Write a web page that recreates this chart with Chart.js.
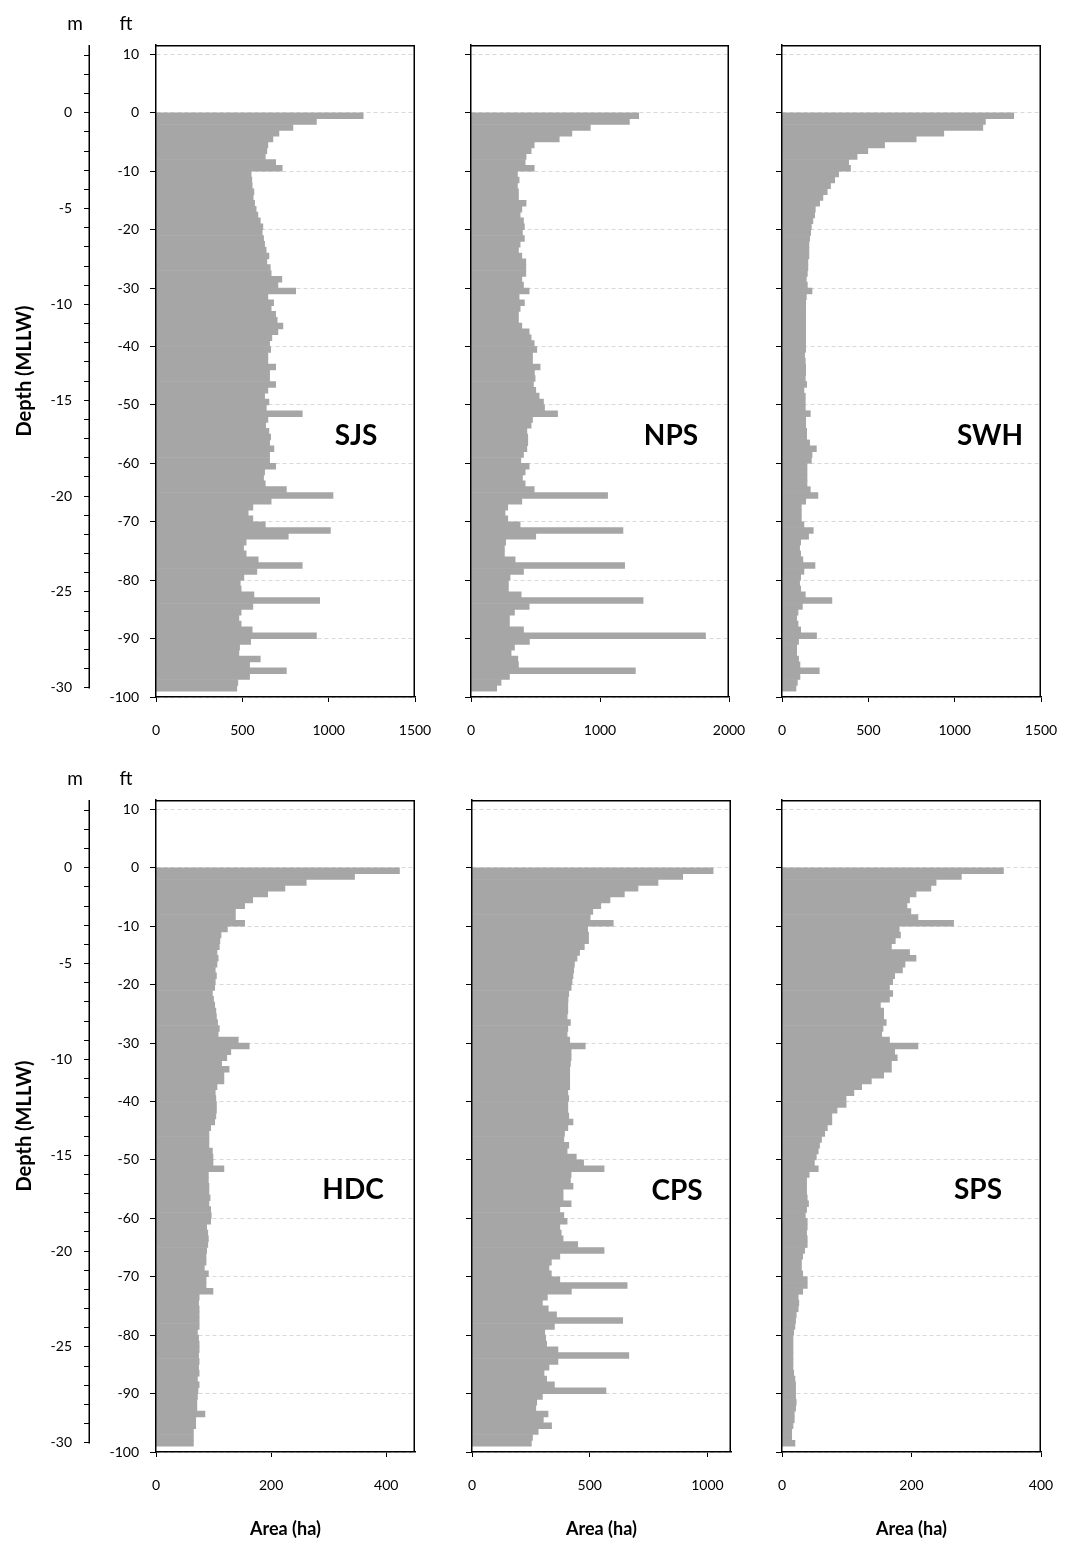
<!DOCTYPE html>
<html>
<head>
<meta charset="utf-8">
<script src="https://cdn.jsdelivr.net/npm/chart.js@4.4.1/dist/chart.umd.min.js"></script>
<style>
html,body{margin:0;padding:0;background:#fff;}
#page{position:relative;width:1072px;height:1543px;overflow:hidden;font-family:Lato,"Open Sans",sans-serif;color:#000;}
#page canvas{position:absolute;}
.lbl{position:absolute;transform:translate(-50%,-50%);white-space:nowrap;}
.unit{font-size:19px;}
.site{font-size:28px;font-weight:bold;}
</style>
</head>
<body>
<div id="page">
  <canvas id="c0"></canvas><canvas id="c1"></canvas><canvas id="c2"></canvas>
  <canvas id="c3"></canvas><canvas id="c4"></canvas><canvas id="c5"></canvas>
  <div class="lbl unit" style="left:75px;top:22px">m</div>
  <div class="lbl unit" style="left:126px;top:22px">ft</div>
  <div class="lbl unit" style="left:75px;top:777px">m</div>
  <div class="lbl unit" style="left:126px;top:777px">ft</div>
  <div class="lbl site" style="left:356px;top:434px">SJS</div>
  <div class="lbl site" style="left:671px;top:434px">NPS</div>
  <div class="lbl site" style="left:990px;top:434px">SWH</div>
  <div class="lbl site" style="left:353px;top:1188px">HDC</div>
  <div class="lbl site" style="left:677px;top:1189px">CPS</div>
  <div class="lbl site" style="left:978px;top:1188px">SPS</div>
</div>
<script>
// depth bins (ft, MLLW), 1 ft thick, bar centred in each bin
const depthFt = [-0.5,-1.5,-2.5,-3.5,-4.5,-5.5,-6.5,-7.5,-8.5,-9.5,
  -10.5,-11.5,-12.5,-13.5,-14.5,-15.5,-16.5,-17.5,-18.5,-19.5,
  -20.5,-21.5,-22.5,-23.5,-24.5,-25.5,-26.5,-27.5,-28.5,-29.5,
  -30.5,-31.5,-32.5,-33.5,-34.5,-35.5,-36.5,-37.5,-38.5,-39.5,
  -40.5,-41.5,-42.5,-43.5,-44.5,-45.5,-46.5,-47.5,-48.5,-49.5,
  -50.5,-51.5,-52.5,-53.5,-54.5,-55.5,-56.5,-57.5,-58.5,-59.5,
  -60.5,-61.5,-62.5,-63.5,-64.5,-65.5,-66.5,-67.5,-68.5,-69.5,
  -70.5,-71.5,-72.5,-73.5,-74.5,-75.5,-76.5,-77.5,-78.5,-79.5,
  -80.5,-81.5,-82.5,-83.5,-84.5,-85.5,-86.5,-87.5,-88.5,-89.5,
  -90.5,-91.5,-92.5,-93.5,-94.5,-95.5,-96.5,-97.5,-98.5];

// area (ha) per depth bin
const sjsArea = [1200,929,793,712,677,648,642,633,693,731, 551,555,557,567,563,571,580,590,604,619,
  615,623,629,638,654,642,662,667,729,706, 809,648,681,667,693,702,735,706,671,658,
  664,648,648,693,658,658,693,648,629,654, 639,847,648,635,654,664,658,683,658,658,
  693,629,623,633,755,1025,667,561,534,561, 633,1010,766,522,507,522,592,847,584,509,
  488,493,567,948,561,493,480,493,557,929, 548,484,480,604,542,755,542,474,468];
const npsArea = [1300,1228,925,782,684,490,466,427,420,490, 360,373,360,368,368,427,394,381,407,414,
  399,414,381,368,394,425,425,425,394,407, 451,373,414,381,368,368,394,451,466,490,
  510,477,477,536,492,497,484,502,528,562, 570,671,477,466,433,440,440,433,407,386,
  451,420,399,420,490,1059,394,285,264,285, 381,1178,502,269,259,259,342,1191,407,303,
  290,290,389,1334,451,337,298,298,407,1818, 453,337,311,363,368,1274,298,233,199];
const swhArea = [1342,1178,1163,937,777,594,497,435,386,397, 328,305,281,262,237,218,193,189,179,170,
  166,160,156,156,156,150,150,147,141,147, 174,141,137,137,137,137,137,137,137,137,
  137,131,135,137,137,135,143,127,135,135, 135,164,137,137,143,143,160,199,174,170,
  145,145,145,145,164,208,137,112,112,112, 127,181,154,108,102,108,121,191,127,108,
  102,108,135,289,118,93,85,93,108,200, 96,85,85,96,104,216,104,89,81];
const hdcArea = [423,345,261,224,194,168,154,138,138,154, 124,113,111,110,106,108,106,103,105,103,
  102,98,100,102,104,105,107,110,108,143, 162,130,123,114,127,118,118,106,103,104,
  105,105,104,102,95,92,92,92,98,99, 99,118,91,91,92,92,94,92,95,96,
  95,88,90,91,90,88,87,87,84,91, 87,87,99,75,74,75,75,75,75,72,
  74,75,75,74,75,74,75,72,75,73, 72,71,71,85,69,69,65,65,65];
const cpsArea = [1024,895,790,705,647,586,547,513,502,600, 491,495,495,477,457,446,435,432,429,425,
  421,411,408,407,407,404,418,407,404,415, 481,421,421,418,415,415,415,415,407,411,
  407,407,411,429,407,393,390,411,404,443, 474,561,421,418,429,387,387,421,373,390,
  404,373,379,387,449,561,373,337,327,337, 373,659,422,320,299,324,359,640,350,309,
  313,317,365,666,365,327,306,317,350,569, 299,275,271,323,303,338,281,257,252];
const spsArea = [342,277,238,230,207,197,193,199,210,265, 181,183,175,169,197,207,190,186,174,171,
  166,171,166,152,157,157,161,156,154,166, 210,174,178,169,169,157,138,123,111,99,
  99,85,77,77,70,66,61,58,56,53, 50,56,42,38,38,38,39,41,38,36,
  39,39,38,39,39,35,32,30,30,32, 39,39,32,25,26,25,22,21,20,18,
  17,17,17,17,17,17,18,20,21,21, 21,22,21,19,19,17,15,15,20];

// axis ranges and tick values
const areaMax = [1500, 2000, 1500, 450, 1100, 400];
const areaTicks = [[0,500,1000,1500], [0,1000,2000], [0,500,1000,1500], [0,200,400], [0,500,1000], [0,200,400]];
const ftTicks = [10,0,-10,-20,-30,-40,-50,-60,-70,-80,-90,-100];
const mTicks = [3,2,1,0,-1,-2,-3,-4,-5,-6,-7,-8,-9,-10,-11,-12,-13,-14,-15,-16,-17,-18,-19,-20,-21,-22,-23,-24,-25,-26,-27,-28,-29,-30];
const mLabels = [0,-5,-10,-15,-20,-25,-30];
const depthMin = -100, depthMax = 11.6;
const FT_PER_M = 3.28084;

const BAR = "#a6a6a6", AXIS = "#000", GRID = "#d9d9d9";
const FONT = "Lato, 'Open Sans', sans-serif";

// canvas placement: [left, top, width, height, yAxisWidth, padRight, xAxisHeight]
const boxes = [
  [0,   0,   460, 760, 66, 45, 63],
  [440, 0,   334, 760, 31, 45, 63],
  [750, 0,   336, 760, 32, 45, 63],
  [0,   755, 460, 788, 66, 45, 91],
  [440, 755, 336, 788, 32, 45, 91],
  [750, 755, 336, 788, 32, 45, 91]
];
const series = [sjsArea, npsArea, swhArea, hdcArea, cpsArea, spsArea];

// closes the plot box (top + right edges)
const frame = {
  id: "frame",
  afterDraw(chart){
    const {ctx, chartArea:a} = chart;
    ctx.save(); ctx.strokeStyle = AXIS; ctx.lineWidth = 1.5;
    ctx.beginPath(); ctx.moveTo(a.left, a.top + 0.75); ctx.lineTo(a.right - 0.75, a.top + 0.75); ctx.lineTo(a.right - 0.75, a.bottom); ctx.stroke();
    ctx.restore();
  }
};
// metre axis line stops at -30 m
const meterLine = {
  id: "meterLine",
  afterDraw(chart){
    const s = chart.scales.ym; if(!s) return;
    const ctx = chart.ctx, x = s.right - 0.75;
    ctx.save(); ctx.strokeStyle = AXIS; ctx.lineWidth = 1.5;
    ctx.beginPath(); ctx.moveTo(x, s.getPixelForValue(s.max)); ctx.lineTo(x, s.getPixelForValue(-30) + 0.75); ctx.stroke();
    ctx.restore();
  }
};

function tickFont(){ return {family: FONT, size: 14}; }
function setTicks(list){ return s => { s.ticks = list.map(v => ({value: v})); }; }

function makeChart(i){
  const [left, top, w, h, yW, padR, xH] = boxes[i];
  const firstCol = i % 3 === 0, bottomRow = i >= 3;
  const cv = document.getElementById("c" + i);
  cv.width = w; cv.height = h;
  cv.style.left = left + "px"; cv.style.top = top + "px";

  const scales = {
    x: {
      type: "linear", position: "bottom", min: 0, max: areaMax[i], offset: false,
      grid: {drawOnChartArea: false, tickLength: 5, tickColor: AXIS, offset: false},
      border: {color: AXIS, width: 1.5},
      ticks: {padding: 20, color: AXIS, font: tickFont(), maxRotation: 0, autoSkip: false, callback: v => String(v)},
      afterBuildTicks: setTicks(areaTicks[i]),
      title: {display: bottomRow, text: "Area (ha)", color: AXIS, font: {family: FONT, size: 18, weight: "bold"}, padding: {top: 0, bottom: 3}},
      afterFit: s => { s.height = xH; }
    },
    y: {
      type: "linear", position: "left", weight: 0, min: depthMin, max: depthMax, offset: false,
      grid: {color: GRID, lineWidth: 1, tickColor: AXIS, tickLength: 6, tickBorderDash: [], offset: false},
      border: {color: AXIS, width: 1.5, dash: [4, 3], z: 1},
      ticks: {display: firstCol, padding: 11, color: AXIS, font: tickFont(), autoSkip: false, callback: v => String(v)},
      afterBuildTicks: setTicks(ftTicks),
      afterFit: s => { s.width = yW; }
    }
  };
  if(firstCol){
    scales.ym = {
      type: "linear", position: "left", weight: 1,
      min: depthMin / FT_PER_M, max: depthMax / FT_PER_M, offset: false,
      grid: {drawOnChartArea: false, tickColor: AXIS, tickLength: 6, offset: false},
      border: {display: false},
      ticks: {padding: 12, color: AXIS, font: tickFont(), autoSkip: false,
              callback: v => mLabels.includes(v) ? String(v) : ""},
      afterBuildTicks: setTicks(mTicks),
      title: {display: true, text: "Depth (MLLW)", color: AXIS, font: {family: FONT, size: 20, weight: "bold"}, padding: {top: 13, bottom: 0}},
      afterFit: s => { s.width = 90; }
    };
  }

  return new Chart(cv, {
    type: "bar",
    data: {
      datasets: [{
        data: series[i].map((a, k) => ({x: a, y: depthFt[k]})),
        backgroundColor: BAR, borderWidth: 0,
        barPercentage: 1, categoryPercentage: 1
      }]
    },
    options: {
      indexAxis: "y", responsive: false, animation: false,
      layout: {padding: {top: 45, right: padR, left: 0, bottom: 0}},
      plugins: {legend: {display: false}, tooltip: {enabled: false}},
      scales
    },
    plugins: [frame, meterLine]
  });
}

for(let i = 0; i < 6; i++) makeChart(i);
</script>
</body>
</html>
